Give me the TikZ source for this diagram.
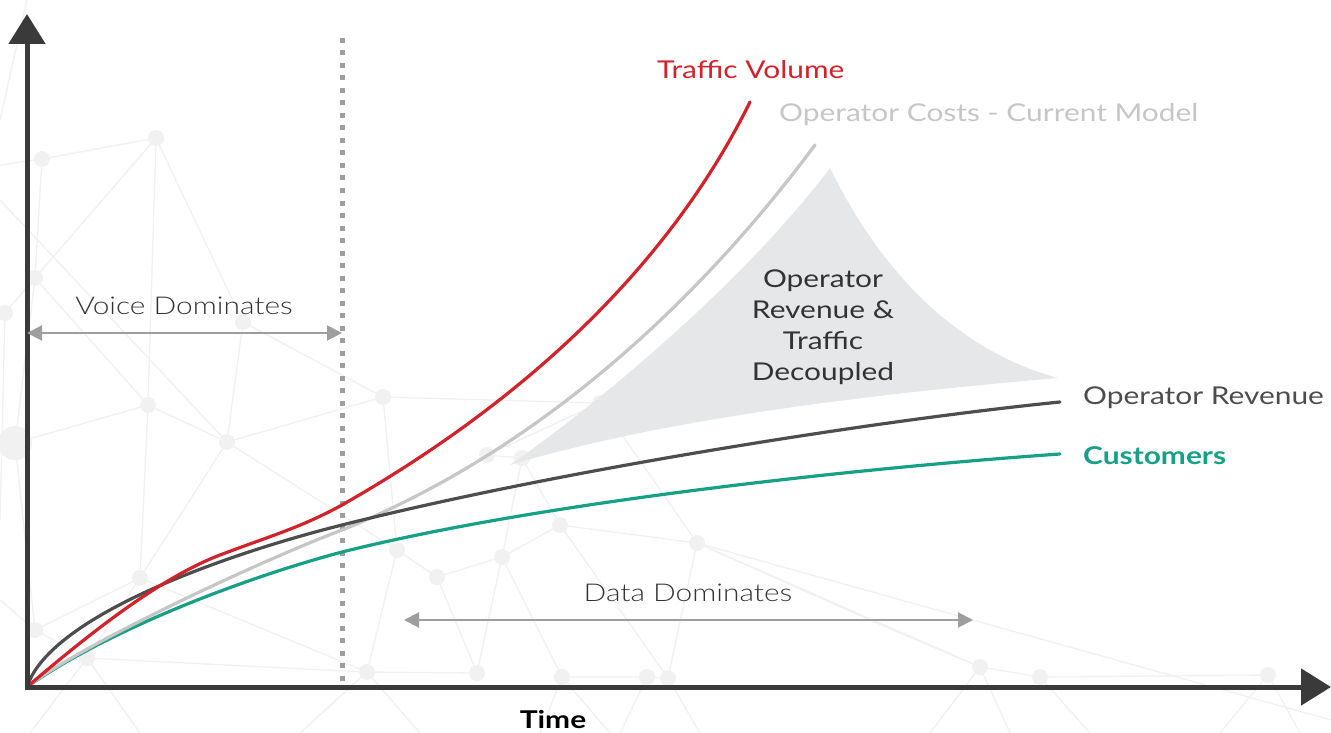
\documentclass[tikz,border=0pt]{standalone}
\usepackage{fontspec}
\setmainfont{Lato}[FakeStretch=1.22]
\newfontfamily\lightfont{Lato Light}[FakeStretch=1.22]
\usetikzlibrary{arrows.meta}
\definecolor{axiscol}{HTML}{3A3A3A}
\definecolor{redc}{HTML}{D2232A}
\definecolor{costc}{HTML}{C6C6C6}
\definecolor{revc}{HTML}{4D4D4D}
\definecolor{custc}{HTML}{16A085}
\definecolor{wedgec}{HTML}{E6E7E8}
\definecolor{netc}{HTML}{F1F1F1}
\definecolor{spanc}{HTML}{9E9E9E}
\definecolor{txtc}{HTML}{333333}
\tikzset{
  axisline/.style={line width=5pt, color=axiscol, -{Triangle[length=30pt,width=36pt]}},
  curve/.style={line width=3.2pt, line cap=round},
  spanarrow/.style={line width=2pt, color=spanc, {Triangle[length=15pt,width=15pt]}-{Triangle[length=15pt,width=15pt]}},
  netline/.style={line width=1.3pt, color=netc},
  netdot/.style={fill=netc},
  lbl/.style={font=\fontsize{24.5}{28}\selectfont, anchor=west, inner sep=0pt},
  spanlbl/.style={font=\lightfont\fontsize{24.5}{28}\selectfont, text=txtc, inner sep=0pt},
}
\begin{document}
\begin{tikzpicture}[x=1pt,y=-1pt]
\useasboundingbox (0,0) rectangle (1331,733);
\fill[white] (0,0) rectangle (1331,733);
% background network
\coordinate (na) at (156,138);
\coordinate (nb) at (42,159);
\coordinate (nc) at (35,278);
\coordinate (nd) at (5,313);
\coordinate (ne) at (148,405);
\coordinate (nf) at (15,443);
\coordinate (ng) at (227,442);
\coordinate (nh) at (383,397);
\coordinate (ni) at (243,322);
\coordinate (nj) at (140,578);
\coordinate (nk) at (35,630);
\coordinate (nl) at (87,658);
\coordinate (nm) at (367,672);
\coordinate (nn) at (397,550);
\coordinate (no) at (600,403);
\coordinate (np) at (487,455);
\coordinate (nq) at (522,458);
\coordinate (nr) at (560,525);
\coordinate (nt) at (502,557);
\coordinate (nu) at (437,577);
\coordinate (nv) at (697,543);
\coordinate (nw) at (477,673);
\coordinate (nx) at (562,677);
\coordinate (ny) at (647,677);
\coordinate (nz) at (668,678);
\coordinate (naa) at (980,667);
\coordinate (nbb) at (1040,677);
\coordinate (ncc) at (1268,675);
\draw[netline] (27,0) -- (0,120);
\draw[netline] (0,165) -- (nb) -- (na) -- (nc) -- (nb);
\draw[netline] (na) -- (ne) -- (nc) -- (nd);
\draw[netline] (na) -- (ni) -- (ng) -- (ne) -- (nf) -- (nc);
\draw[netline] (ni) -- (nh) -- (ng) -- (nj) -- (nk) -- (nl) -- (nj) -- (ne);
\draw[netline] (nf) -- (nk) (0,200) -- (ng);
\draw[netline] (nh) -- (no) -- (np) -- (nq) -- (nr) -- (nt) -- (nu) -- (nn) -- (nh);
\draw[netline] (ng) -- (nn) -- (nm) -- (nl) (nj) -- (nm);
\draw[netline] (nq) -- (nt) -- (nw) -- (nu) (nr) -- (nv) -- (naa) -- (nbb) -- (ncc);
\draw[netline] (nr) -- (nz) -- (nv) (nt) -- (nx) -- (ny) -- (nz) (nw) -- (nm);
\draw[netline] (nm) -- (300,733) (nm) -- (420,733) (nx) -- (540,733) (nx) -- (610,733);
\draw[netline] (nz) -- (700,733) (ny) -- (620,733) (naa) -- (930,733) (naa) -- (1010,733);
\draw[netline] (nbb) -- (1090,733) (ncc) -- (1220,733) (ncc) -- (1300,733) (nl) -- (140,733) (nl) -- (30,733);
\draw[netline] (nk) -- (0,600) (nd) -- (0,520) (nv) -- (870,620) -- (naa) (no) -- (nv);
\draw[netline] (nv) -- (1331,720);
\foreach \p in {na,nb,nc,nd,ne,ng,nh,ni,nj,nk,nl,nm,nn,no,np,nq,nr,nt,nu,nv,nw,nx,ny,nz,naa,nbb,ncc}
  \fill[netdot] (\p) circle (8pt);
\fill[netdot] (nf) circle (17pt);
% wedge
\fill[wedgec] (510,465) .. controls (620,388) and (755,268) .. (830,168)
  .. controls (880,270) and (955,350) .. (1058,378)
  .. controls (860,395) and (660,420) .. (510,465) -- cycle;
\node[font=\fontsize{24.5}{31}\selectfont, text=txtc, align=center] (wedgetxt) at (823,327)
  {Operator\\Revenue \&\\Traffic\\Decoupled};
% divider
\draw[line width=5pt, color=spanc, dash pattern=on 5pt off 7.5pt] (342,38) -- (342,683);
% curves
\coordinate (orig) at (27,687);
\draw[curve, custc] (orig) .. controls (100,635) and (230,582) .. (342,552)
  .. controls (542,502) and (860,468) .. (1060,454);
\draw[curve, costc] (orig) .. controls (80,645) and (260,561) .. (342,530)
  .. controls (533,453) and (693,309) .. (815,145);
\draw[curve, revc] (orig) .. controls (50,615) and (230,553) .. (342,525)
  .. controls (560,470) and (880,420) .. (1060,402);
\draw[curve, redc] (orig) .. controls (90,633) and (160,578) .. (220,555)
  .. controls (270,536) and (300,528) .. (342,505)
  .. controls (509,410) and (663,278) .. (750,102);
% axes
\coordinate (ytip) at (27,14);
\coordinate (xtip) at (1331,687);
\draw[axisline] (27,689.5) -- (ytip);
\draw[axisline] (24.5,687) -- (xtip);
% span arrows
\coordinate (v1) at (27,333);
\coordinate (v2) at (342,333);
\draw[spanarrow] (v1) -- (v2);
\node[spanlbl] (voice) at (184,306) {Voice Dominates};
\coordinate (d1) at (404,620);
\coordinate (d2) at (973,620);
\draw[spanarrow] (d1) -- (d2);
\node[spanlbl] (data) at (688,593) {Data Dominates};
% labels
\node[lbl, text=redc] (tv) at (657,70) {Traffic Volume};
\node[lbl, text=costc] (oc) at (779,115) {Operator Costs - Current Model};
\node[lbl, text=revc] (orv) at (1083,398) {Operator Revenue};
\node[lbl, text=custc, font=\bfseries\fontsize{24.5}{28}\selectfont] (cu) at (1083,456) {Customers};
\node[font=\bfseries\fontsize{24.5}{28}\selectfont, text=black, inner sep=0pt] (time) at (553,720) {Time};
\end{tikzpicture}
\end{document}
